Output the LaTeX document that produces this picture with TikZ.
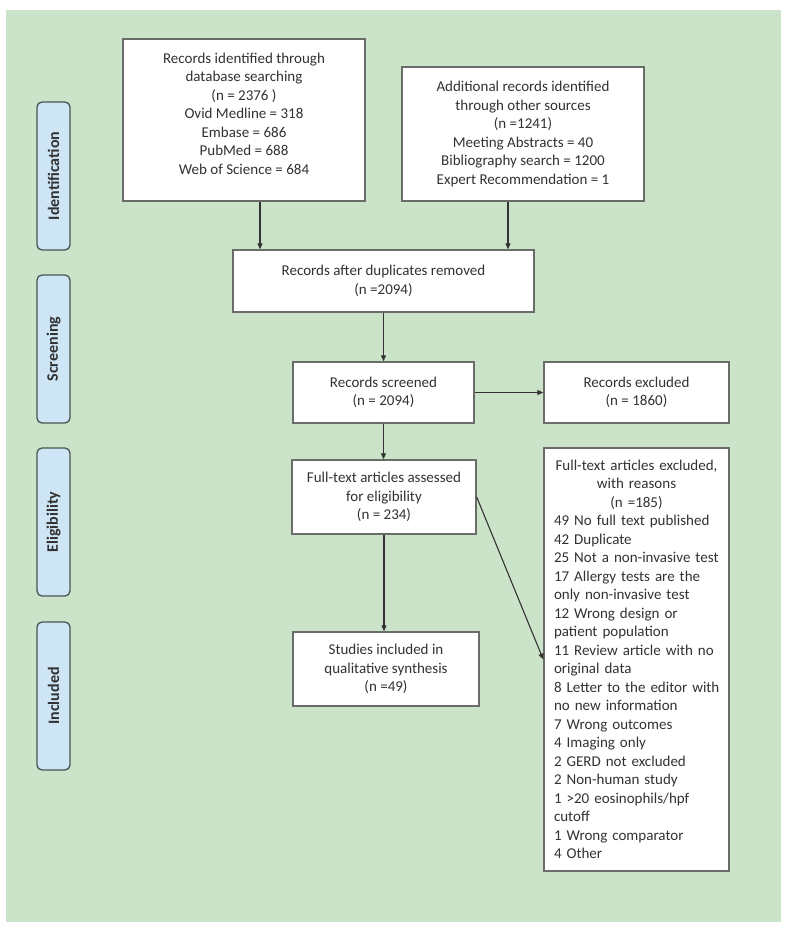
\documentclass[tikz,border=0pt]{standalone}
\usepackage{fontspec}
\setmainfont{Carlito}
\usetikzlibrary{arrows.meta}
\definecolor{bggreen}{RGB}{203,227,201}
\definecolor{tabblue}{RGB}{205,229,245}
\definecolor{tabline}{RGB}{72,86,82}
\definecolor{boxline}{RGB}{105,108,105}
\definecolor{inktext}{RGB}{50,50,50}
\begin{document}
\begin{tikzpicture}[x=1pt,y=-1pt,
  box/.style={draw=boxline, line width=1.4pt, fill=white, align=center, text=inktext, inner sep=0pt, font=\fontsize{15}{18.5}\selectfont},
  stage/.style={draw=tabline, line width=1.3pt, fill=tabblue, rounded corners=5pt, minimum width=148pt, minimum height=33pt, inner sep=0pt, rotate=90, text=inktext, font=\fontsize{16}{18}\selectfont\bfseries},
  arr/.style={draw=black!80, line width=1.1pt, -{Triangle[length=6pt,width=5pt]}}]
\useasboundingbox (0,0) rectangle (791,940);
\fill[bggreen] (6,10) rectangle (781,922);

\node[stage] (identification) at (53.5,176) {Identification};
\node[stage] (screening) at (53.5,349) {Screening};
\node[stage] (eligibility) at (53.5,522) {Eligibility};
\node[stage] (included) at (53.5,696) {Included};

\node[box, minimum width=242pt, minimum height=162pt] (database) at (244,120) {Records identified through\\database searching\\(n =  2376 )\\Ovid Medline = 318\\Embase = 686\\PubMed = 688\\Web of Science = 684\\[-6pt]};
\node[box, minimum width=242pt, minimum height=134pt] (othersrc) at (523,134) {Additional records identified\\through other sources\\(n =1241)\\Meeting Abstracts = 40\\Bibliography search = 1200\\Expert Recommendation = 1};
\node[box, minimum width=301pt, minimum height=62pt] (dedup) at (383.5,281) {Records after duplicates removed\\(n =2094)};
\node[box, minimum width=181pt, minimum height=61pt] (screened) at (383.5,392.5) {Records screened\\(n = 2094)};
\node[box, minimum width=185pt, minimum height=61pt] (excluded) at (636.5,392.5) {Records excluded\\(n = 1860)};
\node[box, minimum width=184pt, minimum height=74pt] (fulltext) at (384,497) {Full-text articles assessed\\for eligibility\\(n = 234)};
\node[box, align=left, text width=165pt, inner xsep=10pt, minimum height=423pt] (reasons) at (636.5,659.5) {{\centering Full-text articles excluded,\\with reasons\\(n =185)\par}
49 No full text published\\42 Duplicate\\25 Not a non-invasive test\\17 Allergy tests are the\\only non-invasive test\\12 Wrong design or\\patient population\\11 Review article with no\\original data\\\mbox{8 Letter to the editor with}\\no new information\\7 Wrong outcomes\\4 Imaging only\\2 GERD not excluded\\2 Non-human study\\1 >20 eosinophils/hpf\\cutoff\\1 Wrong comparator\\4 Other};
\node[box, minimum width=186pt, minimum height=74pt] (synthesis) at (386,669) {Studies included in\\qualitative synthesis\\(n =49)};

\draw[arr] ([xshift=16pt]database.south) -- ([xshift=16pt]database.south |- dedup.north);
\draw[arr] ([xshift=-15pt]othersrc.south) -- ([xshift=-15pt]othersrc.south |- dedup.north);
\draw[arr] (dedup.south) -- (screened.north);
\draw[arr] (screened.east) -- (excluded.west);
\draw[arr] (screened.south) -- (screened.south |- fulltext.north);
\draw[arr] (fulltext.south) -- (fulltext.south |- synthesis.north);
\draw[arr] (fulltext.east) -- (reasons.west);
\end{tikzpicture}
\end{document}
